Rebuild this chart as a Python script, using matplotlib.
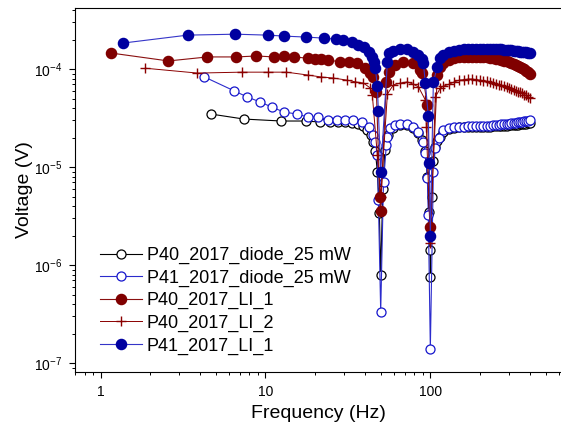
import matplotlib
matplotlib.use("Agg")
import matplotlib.pyplot as plt
import matplotlib.ticker as mticker
import numpy as np

plt.rcParams['font.family'] = ['Liberation Sans', 'DejaVu Sans']
plt.rcParams['mathtext.fontset'] = 'custom'
plt.rcParams['mathtext.rm'] = 'Liberation Sans'
plt.rcParams['mathtext.it'] = 'Liberation Sans:italic'

# common frequency grid above the 100 Hz notch (Hz)
f_hi = [120, 130, 140, 150, 160, 170, 180, 190, 200, 210, 220, 230, 240, 250, 260,
        270, 280, 290, 300, 310, 320, 330, 340, 350, 360, 370, 380, 390, 400]

# P40_2017_diode_25 mW
p40d_f = [4.7, 7.4, 12.5, 17.5, 21.5, 24.5, 27.5, 30.5, 33.5, 36.5, 39, 41.5, 43.5, 45, 46.4,
          47.7, 49.1, 50, 51.5, 53, 55.6, 59.7, 65.8, 72.6, 78.9, 84.6, 89.5, 93, 95.9, 98,
          99.5, 100, 102, 104.3, 107.2, 110.2, 115]
p40d_v = [3.47e-5, 3.09e-5, 2.95e-5, 2.95e-5, 2.88e-5, 2.9e-5, 2.9e-5, 2.88e-5, 2.82e-5, 2.75e-5,
          2.62e-5, 2.4e-5, 2.1e-5, 1.8e-5, 1.45e-5, 9.0e-6, 3.4e-6, 7.9e-7, 6.0e-6, 1.5e-5,
          2.12e-5, 2.5e-5, 2.69e-5, 2.69e-5, 2.5e-5, 2.23e-5, 1.89e-5, 1.45e-5, 8.0e-6, 3.5e-6,
          1.42e-6, 7.5e-7, 5.0e-6, 1.15e-5, 1.6e-5, 1.85e-5, 2.05e-5]
p40d_hi = [2.3, 2.45, 2.52, 2.55, 2.56, 2.56, 2.56, 2.56, 2.57, 2.57, 2.58, 2.59, 2.6, 2.61, 2.62,
           2.63, 2.64, 2.65, 2.66, 2.67, 2.68, 2.7, 2.71, 2.73, 2.74, 2.76, 2.78, 2.8, 2.82]  # x1e-5

# P41_2017_diode_25 mW
p41d_f = [4.27, 6.49, 7.78, 9.33, 10.9, 12.9, 15.6, 18, 20.9, 24.1, 27.3, 30.5, 34.1, 38.7, 42.7,
          45.1, 46.4, 47.7, 48.4, 50, 52, 54.1, 54.9, 57.2, 61.4, 65.8, 72.6, 78.9, 84.6, 90.7,
          93.3, 95.9, 97.2, 100, 104.3, 107.2, 113.4]
p41d_v = [8.3e-5, 5.97e-5, 5.18e-5, 4.6e-5, 4.1e-5, 3.65e-5, 3.47e-5, 3.24e-5, 3.24e-5, 3.02e-5,
          3.02e-5, 3.02e-5, 3.02e-5, 2.88e-5, 2.56e-5, 2.12e-5, 1.8e-5, 1.33e-5, 4.6e-6, 3.31e-7,
          7e-6, 1.68e-5, 2.02e-5, 2.5e-5, 2.69e-5, 2.75e-5, 2.75e-5, 2.56e-5, 2.28e-5, 1.8e-5,
          1.39e-5, 7.7e-6, 3.25e-6, 1.39e-7, 9e-6, 1.57e-5, 1.98e-5]
p41d_hi = [2.39, 2.52, 2.56, 2.58, 2.59, 2.6, 2.6, 2.61, 2.62, 2.63, 2.64, 2.65, 2.67, 2.68, 2.7,
           2.72, 2.74, 2.76, 2.78, 2.8, 2.82, 2.84, 2.86, 2.88, 2.9, 2.92, 2.95, 2.98, 3.02]  # x1e-5

# P40_2017_LI_1
p40l1_f = [1.15, 2.58, 4.45, 6.67, 8.82, 11.3, 12.9, 15, 18, 20, 21.8, 24.1, 28.5, 32, 36.1,
           40.4, 43.3, 45.1, 47.1, 49.4, 50, 54.1, 56.4, 61.4, 68.6, 78.9, 86.9, 89.5, 95.9, 100,
           110.2, 115]
p40l1_v = [1.46e-4, 1.21e-4, 1.33e-4, 1.33e-4, 1.36e-4, 1.33e-4, 1.36e-4, 1.33e-4, 1.29e-4, 1.26e-4,
           1.26e-4, 1.24e-4, 1.18e-4, 1.17e-4, 1.15e-4, 1.02e-4, 9.1e-5, 8.3e-5, 5.8e-5, 4.9e-6,
           3.6e-6, 7.4e-5, 9.3e-5, 1.1e-4, 1.18e-4, 1.15e-4, 9.8e-5, 9.1e-5, 4.29e-5, 2.44e-6,
           8.7e-5, 1.05e-4]
p40l1_hi = [1.16, 1.25, 1.29, 1.32, 1.33, 1.34, 1.34, 1.34, 1.33, 1.33, 1.32, 1.31, 1.29, 1.28, 1.26,
            1.24, 1.22, 1.2, 1.18, 1.16, 1.13, 1.11, 1.08, 1.05, 1.02, 0.99, 0.96, 0.93, 0.9]  # x1e-4

# P40_2017_LI_2
p40l2_f = [1.87, 3.87, 7.16, 10.4, 13.4, 18, 21.8, 25.8, 31.4, 35.1, 39.3, 43.3, 44.5, 47.7, 50,
           54.9, 59.7, 65.8, 72.6, 78.9, 84.6, 93.3, 94.6, 100, 107.2, 115]
p40l2_v = [1.02e-4, 9.1e-5, 9.3e-5, 9.3e-5, 9.3e-5, 8.7e-5, 8.3e-5, 8.1e-5, 7.7e-5, 7.4e-5,
           7.2e-5, 6.4e-5, 5.4e-5, 1.33e-5, 5e-6, 5.56e-5, 6.9e-5, 7.2e-5, 7.4e-5, 7.0e-5,
           6.6e-5, 4.83e-5, 2.56e-5, 1.68e-6, 5.18e-5, 6.4e-5]
p40l2_hi = [6.7, 7.0, 7.4, 7.7, 7.8, 7.9, 7.9, 7.8, 7.7, 7.6, 7.5, 7.4, 7.2, 7.1, 6.9,
            6.8, 6.7, 6.6, 6.4, 6.2, 6.1, 6.0, 5.9, 5.8, 5.7, 5.5, 5.4, 5.2, 5.1]  # x1e-5

# P41_2017_LI_1
p41l1_f = [1.36, 3.37, 6.58, 10.3, 13, 17.7, 22.5, 26.6, 29.7, 33.7, 36.6, 39.8, 42.7, 44.5, 45.8,
           46.4, 47.7, 48.4, 50, 54.9, 56.4, 59.7, 65.8, 72.6, 78.9, 84.6, 89.5, 90.7, 93.3, 97.2,
           98.6, 100, 104.3, 110.2, 115]
p41l1_v = [1.84e-4, 2.22e-4, 2.27e-4, 2.22e-4, 2.17e-4, 2.12e-4, 2.07e-4, 2.02e-4, 1.98e-4, 1.89e-4,
           1.76e-4, 1.68e-4, 1.49e-4, 1.33e-4, 1.18e-4, 1.02e-4, 6.7e-5, 3.73e-5, 8.9e-6, 1.18e-4,
           1.46e-4, 1.53e-4, 1.6e-4, 1.6e-4, 1.49e-4, 1.39e-4, 1.26e-4, 1.15e-4, 7.2e-5, 3.31e-5,
           1.1e-5, 2.0e-6, 7.4e-5, 1.05e-4, 1.29e-4]
p41l1_hi = [1.40, 1.50, 1.54, 1.57, 1.59, 1.6, 1.61, 1.61, 1.61, 1.61, 1.61, 1.61, 1.6, 1.6, 1.59,
            1.59, 1.58, 1.57, 1.56, 1.55, 1.54, 1.53, 1.52, 1.51, 1.5, 1.49, 1.48, 1.47, 1.46]  # x1e-4

fig = plt.figure(figsize=(5.61, 4.32), dpi=100)
ax = fig.add_axes([75/561, 1-372/432, 1-75/561, (372-8)/432])

ax.plot(p40d_f + f_hi, p40d_v + [v*1e-5 for v in p40d_hi], '-o', color='black', lw=0.8,
        ms=6.5, mfc='white', mec='black', mew=0.9, label='P40_2017_diode_25 mW')
ax.plot(p41d_f + f_hi, p41d_v + [v*1e-5 for v in p41d_hi], '-o', color='#2b2bcc', lw=0.8,
        ms=6.5, mfc='white', mec='#1515cc', mew=0.9, label='P41_2017_diode_25 mW')
ax.plot(p40l1_f + f_hi, p40l1_v + [v*1e-4 for v in p40l1_hi], '-o', color='#8a1010', lw=0.8,
        ms=7.3, mfc='#800000', mec='#800000', label='P40_2017_LI_1')
ax.plot(p40l2_f + f_hi, p40l2_v + [v*1e-5 for v in p40l2_hi], '-+', color='#8b0000', lw=0.7,
        ms=7, mew=1.0, label='P40_2017_LI_2')
ax.plot(p41l1_f + f_hi, p41l1_v + [v*1e-4 for v in p41l1_hi], '-o', color='#3535c8', lw=0.8,
        ms=7.3, mfc='#0000a0', mec='#0000a0', label='P41_2017_LI_1')

ax.set_xscale('log')
ax.set_yscale('log')
ax.set_xlim(0.7, 620)
ax.set_ylim(8.1e-8, 4.2e-4)
ax.spines['right'].set_visible(False)

ax.xaxis.set_major_formatter(mticker.FuncFormatter(lambda x, p: '%g' % x))
ax.xaxis.set_minor_formatter(mticker.NullFormatter())
ax.tick_params(which='major', direction='out', length=4, width=0.8, labelsize=10, pad=5)
ax.tick_params(which='minor', direction='out', length=2.2, width=0.7)
ax.tick_params(top=False, right=False, which='both')

ax.set_xlabel('Frequency (Hz)', fontsize=14, labelpad=5)
ax.set_ylabel('Voltage (V)', fontsize=14, labelpad=1)

ax.legend(loc='upper left', bbox_to_anchor=(100/561, 1-247/432), bbox_transform=fig.transFigure,
          frameon=False, fontsize=13, numpoints=1, handlelength=2.3, handletextpad=0.3,
          labelspacing=0.3, borderpad=0, borderaxespad=0)

plt.savefig('out.png', dpi=100)
